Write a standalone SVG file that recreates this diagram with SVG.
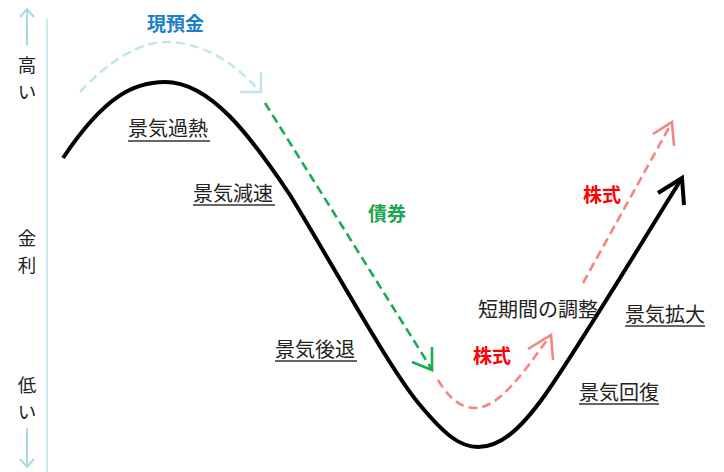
<svg xmlns="http://www.w3.org/2000/svg" width="724" height="472" viewBox="0 0 724 472">
<style>
.lbl{font-family:"Noto Sans CJK JP","Noto Sans",sans-serif;font-size:20px;fill:#222}
.yl{font-family:"Noto Sans CJK JP","Noto Sans",sans-serif;font-size:18.5px;fill:#222}
.b{font-family:"Noto Sans CJK JP","Noto Sans",sans-serif;font-size:19px;font-weight:bold}
.ul{stroke:#333;stroke-width:1.3}
.ax{stroke:#a8dbe2;stroke-width:2;fill:none}
.dash{fill:none;stroke-width:2.6;stroke-dasharray:9 5}
.head{fill:none;stroke-width:2.6;stroke-linecap:butt}
</style>
<rect width="724" height="472" fill="#fff"/>
<g id="axis">
<line class="ax" x1="47" y1="19" x2="47" y2="472" style="stroke:#cbe9ee"/>
<line class="ax" x1="27" y1="45" x2="27" y2="9"/>
<polyline class="ax" points="20,17 27,9 34,17"/>
<line class="ax" x1="27" y1="428" x2="27" y2="467"/>
<polyline class="ax" points="20,459 27,467 34,459"/>
<text class="yl" x="27" y="72" text-anchor="middle">高</text>
<text class="yl" x="27" y="99" text-anchor="middle">い</text>
<text class="yl" x="27" y="245" text-anchor="middle">金</text>
<text class="yl" x="27" y="272" text-anchor="middle">利</text>
<text class="yl" x="27" y="392" text-anchor="middle">低</text>
<text class="yl" x="27" y="419" text-anchor="middle">い</text>
</g>
<g id="cycle">
<path d="M63,158 C105,95 135,82 165,82 C210,82 250,135 290,195 C330,260 390,370 420,405 C445,435 460,447 478,447 C500,447 520,430 545,395 C580,345 640,245 682,178" fill="none" stroke="#000" stroke-width="4"/>
<polyline points="658,193 682,178 684,205" fill="none" stroke="#000" stroke-width="4"/>
</g>
<g id="connectors">
<path class="dash" stroke="#c2e6ec" d="M80,92 C110,60 140,42 167,42 C200,42 235,62 258,90"/>
<polyline class="head" stroke="#c2e6ec" points="240,92 261,92 261,72"/>
<path class="dash" stroke="#1bab52" d="M265,103 L431,368"/>
<polyline class="head" stroke="#1bab52" points="412,362 432,370 432,347"/>
<path class="dash" stroke="#f48585" d="M438,380 C450,400 462,408 475,408 C500,408 525,370 550,336"/>
<polyline class="head" stroke="#f48585" points="528,349 551,335 553,360"/>
<path class="dash" stroke="#f48585" d="M583,283 L671,124"/>
<polyline class="head" stroke="#f48585" points="653,134 672,122 674,146"/>
</g>
<g id="labels">
<text class="b" x="147" y="31" fill="#1a7fc8">現預金</text>
<text class="b" x="368" y="221" fill="#19a84f">債券</text>
<text class="b" x="583" y="202" fill="#ff0000">株式</text>
<text class="b" x="473" y="363" fill="#ff0000">株式</text>
<text class="lbl" x="128" y="136">景気過熱</text>
<line class="ul" x1="128" y1="141" x2="210" y2="141"/>
<text class="lbl" x="193" y="201">景気減速</text>
<line class="ul" x1="193" y1="205" x2="275" y2="205"/>
<text class="lbl" x="275" y="357">景気後退</text>
<line class="ul" x1="275" y1="361" x2="357" y2="361"/>
<text class="lbl" x="478" y="317">短期間の調整</text>
<text class="lbl" x="625" y="322">景気拡大</text>
<line class="ul" x1="625" y1="326" x2="705" y2="326"/>
<text class="lbl" x="579" y="400">景気回復</text>
<line class="ul" x1="579" y1="404" x2="659" y2="404"/>
</g>
</svg>
